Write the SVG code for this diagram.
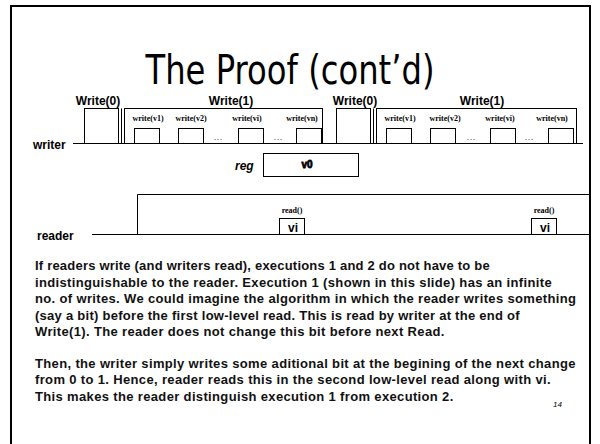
<svg xmlns="http://www.w3.org/2000/svg" width="600" height="444" viewBox="0 0 600 444">
<style>
.ln{fill:none;stroke:#000;stroke-width:1}
.lbl{font-family:"Liberation Sans",Arial,sans-serif;font-weight:bold;font-size:12px;fill:#000}
.sm{font-family:"Liberation Serif","Times New Roman",serif;font-weight:bold;font-size:8px;fill:#000;text-anchor:middle}
.dots{font-family:"Liberation Serif",serif;font-size:9px;fill:#000;text-anchor:middle}
.para{font-family:"Liberation Sans",Arial,sans-serif;font-weight:bold;font-size:13px;letter-spacing:0.35px;fill:#111}
</style>
<rect width="600" height="444" fill="#fff"/>
<path d="M11,450 V6 H590 V450" fill="none" stroke="#000" stroke-width="2"/>
<text x="290" y="84" font-family="'DejaVu Sans',sans-serif" font-size="40" text-anchor="middle" textLength="289" lengthAdjust="spacingAndGlyphs">The Proof (cont’d)</text>

<g id="connectors">
<line class="ln" x1="73" y1="143.5" x2="583" y2="143.5"/>
<line class="ln" x1="92" y1="234.5" x2="590" y2="234.5"/>
</g>
<text class="lbl" x="33" y="149" font-size="11.5">writer</text>
<text class="lbl" x="37" y="240" font-size="11.5">reader</text>

<g id="write0-a">
<text class="lbl" x="98" y="105" text-anchor="middle">Write(0)</text>
<rect class="ln" x="84.5" y="108.5" width="34" height="35"/>
<line class="ln" x1="121.5" y1="108.5" x2="121.5" y2="143.5"/>
</g>
<g id="write1-a">
<text class="lbl" x="231" y="105" text-anchor="middle">Write(1)</text>
<rect class="ln" x="124.5" y="108.5" width="198" height="35"/>
<text class="sm" x="148" y="121">write(v1)</text>
<text class="sm" x="191" y="121">write(v2)</text>
<text class="sm" x="247" y="121">write(vi)</text>
<text class="sm" x="302" y="121">write(vn)</text>
<rect class="ln" x="134.5" y="128.5" width="25" height="15"/>
<rect class="ln" x="178.5" y="128.5" width="25" height="15"/>
<rect class="ln" x="238.5" y="128.5" width="25" height="15"/>
<rect class="ln" x="296.5" y="128.5" width="25" height="15"/>
<text class="dots" x="218" y="140">…</text>
<text class="dots" x="278" y="140">…</text>
</g>
<g id="write0-b">
<text class="lbl" x="355" y="105" text-anchor="middle">Write(0)</text>
<rect class="ln" x="336.5" y="108.5" width="34" height="35"/>
<line class="ln" x1="373.5" y1="108.5" x2="373.5" y2="143.5"/>
</g>
<g id="write1-b">
<text class="lbl" x="482" y="105" text-anchor="middle">Write(1)</text>
<rect class="ln" x="376.5" y="108.5" width="200" height="35"/>
<text class="sm" x="400" y="121">write(v1)</text>
<text class="sm" x="445" y="121">write(v2)</text>
<text class="sm" x="500" y="121">write(vi)</text>
<text class="sm" x="552" y="121">write(vn)</text>
<rect class="ln" x="386.5" y="128.5" width="25" height="15"/>
<rect class="ln" x="430.5" y="128.5" width="25" height="15"/>
<rect class="ln" x="490.5" y="128.5" width="25" height="15"/>
<rect class="ln" x="548.5" y="128.5" width="25" height="15"/>
<text class="dots" x="471" y="140">…</text>
<text class="dots" x="529" y="140">…</text>
</g>

<g id="reg">
<text class="lbl" x="235" y="170" font-style="italic" font-size="12.5">reg</text>
<rect class="ln" x="263.5" y="153.5" width="95" height="23"/>
<text x="307" y="168" font-family="'Liberation Sans',sans-serif" font-weight="bold" font-size="10" text-anchor="middle" stroke="#000" stroke-width="0.8">v0</text>
</g>

<g id="reader-op">
<path class="ln" d="M137.5,234.5 V194.5 H589.5 V234.5"/>
</g>
<g id="read-1">
<text class="sm" x="292" y="213" font-size="7.5">read()</text>
<rect class="ln" x="279.5" y="218.5" width="25" height="16"/>
<text class="lbl" x="293" y="232" font-size="11" text-anchor="middle">vi</text>
</g>
<g id="read-2">
<text class="sm" x="544" y="213" font-size="7.5">read()</text>
<rect class="ln" x="531.5" y="218.5" width="25" height="16"/>
<text class="lbl" x="545" y="232" font-size="11" text-anchor="middle">vi</text>
</g>

<g id="paragraph">
<text class="para" x="35" y="270" textLength="455" lengthAdjust="spacing">If readers write (and writers read), executions 1 and 2 do not have to be</text>
<text class="para" x="35" y="287">indistinguishable to the reader. Execution 1 (shown in this slide) has an infinite</text>
<text class="para" x="35" y="303">no. of writes. We could imagine the algorithm in which the reader writes something</text>
<text class="para" x="35" y="320" textLength="485" lengthAdjust="spacing">(say a bit) before the first low-level read. This is read by writer at the end of</text>
<text class="para" x="35" y="336">Write(1). The reader does not change this bit before next Read.</text>
<text class="para" x="35" y="368">Then, the writer simply writes some aditional bit at the begining of the next change</text>
<text class="para" x="35" y="384">from 0 to 1. Hence, reader reads this in the second low-level read along with vi.</text>
<text class="para" x="35" y="401">This makes the reader distinguish execution 1 from execution 2.</text>
</g>
<text x="553" y="407" font-family="'Liberation Sans',sans-serif" font-style="italic" font-size="8">14</text>
</svg>
